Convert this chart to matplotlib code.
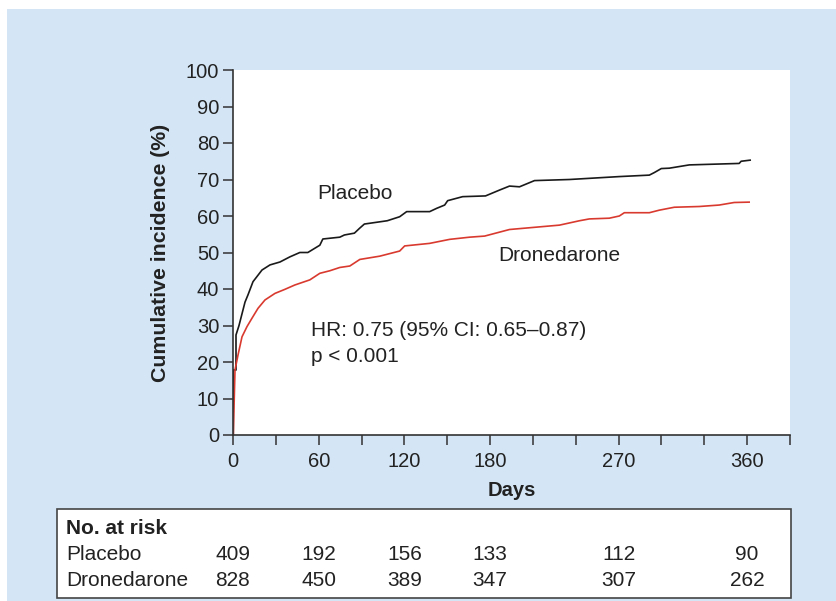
import matplotlib
matplotlib.use("Agg")
import matplotlib.pyplot as plt
from matplotlib.patches import Rectangle

# Kaplan-Meier style cumulative incidence
placebo_days = [0, 0.2, 0.2, 2.1, 2.1, 4.2, 8.4, 10.5, 14, 20.3, 25.9, 32.9, 39.8,
                46.8, 52.4, 60.8, 62.9, 74.8, 78, 85, 88.8, 92, 108, 116.7, 121.6,
                137.7, 142.6, 148.2, 150.3, 160.8, 176.8, 186.6, 193.6, 200.6,
                211.1, 235.6, 270.5, 291.5, 295, 299.9, 305.5, 319.5, 354.4,
                355.8, 362.1]
placebo_pct = [0, 0, 17.8, 17.8, 27.4, 30, 36.4, 38.4, 42, 45.2, 46.6, 47.4, 48.8,
               50, 50, 52, 53.7, 54.2, 54.8, 55.3, 56.7, 57.8, 58.7, 59.8, 61.2,
               61.2, 62.1, 63, 64.2, 65.3, 65.5, 67.1, 68.2, 68, 69.7, 70, 70.8,
               71.2, 71.9, 73, 73.1, 74, 74.4, 75, 75.3]

drone_days = [0, 0.2, 1.4, 3.5, 6.3, 9.8, 13.3, 17.5, 22.4, 29.4, 36.3, 43.3,
              53.8, 60.8, 67.8, 74.8, 81.8, 88.8, 102.8, 116.7, 120.2, 137.7,
              151.7, 165.7, 176.2, 193.6, 211.1, 228.6, 242.6, 249.5, 263.5,
              270.5, 274, 291.5, 298.5, 309, 326.4, 340.4, 350.9, 361.4]
drone_pct = [0, 0, 17.8, 21.9, 26.9, 29.7, 32, 34.7, 37, 38.8, 39.9, 41.1, 42.5,
             44.3, 45, 45.9, 46.3, 48.1, 49, 50.4, 51.8, 52.5, 53.6, 54.2, 54.5,
             56.3, 56.9, 57.5, 58.7, 59.2, 59.4, 60, 60.9, 60.9, 61.6, 62.4,
             62.6, 63, 63.7, 63.8]

x_ticks = list(range(0, 391, 30))
x_labels = ["0", "", "60", "", "120", "", "180", "", "", "270", "", "", "360", ""]
y_ticks = list(range(0, 101, 10))

risk_days = [0, 60, 120, 180, 270, 360]
risk_placebo = [409, 192, 156, 133, 112, 90]
risk_drone = [828, 450, 389, 347, 307, 262]

W, H = 836, 601
BG = "#d4e6f5"
FONT = "Liberation Sans"
plt.rcParams["font.family"] = [FONT, "DejaVu Sans"]

fig = plt.figure(figsize=(W / 100, H / 100), dpi=100, facecolor="white")

# light blue panel behind everything
fig.patches.append(Rectangle((7 / W, 0), 1 - 7 / W, (H - 9) / H,
                             transform=fig.transFigure, facecolor=BG,
                             edgecolor="none", zorder=-10))
# "No. at risk" box
fig.patches.append(Rectangle((57 / W, (H - 598) / H), (791 - 57) / W, (598 - 509) / H,
                             transform=fig.transFigure, facecolor="white",
                             edgecolor="#444444", linewidth=1.2, zorder=-5))

ax = fig.add_axes([233 / W, (H - 435) / H, (790 - 233) / W, (435 - 70) / H])
ax.set_facecolor("white")

ax.plot(placebo_days, placebo_pct, color="#1a1a1a", lw=1.2)
ax.plot(drone_days, drone_pct, color="#d93a2f", lw=1.2)

ax.set_xlim(0, 390)
ax.set_ylim(0, 100)
ax.set_xticks(x_ticks)
ax.set_xticklabels(x_labels)
ax.set_yticks(y_ticks)
for s in ("top", "right"):
    ax.spines[s].set_visible(False)
for s in ("left", "bottom"):
    ax.spines[s].set_color("#333333")
    ax.spines[s].set_linewidth(1.2)
ax.tick_params(direction="out", length=7, width=1.1, color="#333333",
               labelsize=14.5, labelcolor="#222222", pad=3)
ax.tick_params(axis="x", pad=5)
ax.spines["left"].set_zorder(5)

ax.set_ylabel("Cumulative incidence (%)", fontsize=15.3, fontweight="bold", color="#222222")
ax.yaxis.set_label_coords(-0.113, 0.5)
ax.set_xlabel("Days", fontsize=14.5, fontweight="bold", color="#222222")
ax.xaxis.set_label_coords(0.5, -0.127)

ax.text(58.7, 66.3, "Placebo", fontsize=15, va="center", color="#222222")
ax.text(186, 49.3, "Dronedarone", fontsize=15, va="center", color="#222222")
ax.text(54.5, 28.5, "HR: 0.75 (95% CI: 0.65\u20130.87)", fontsize=15, va="center", color="#222222")
ax.text(54.5, 21.4, "p < 0.001", fontsize=15, va="center", color="#222222")

# number at risk table, aligned with the x axis
ty = lambda py: (H - py) / H
fig.text(66 / W, ty(528), "No. at risk", fontsize=15, fontweight="bold",
         va="center", color="#222222")
fig.text(66 / W, ty(555), "Placebo", fontsize=15, va="center", color="#222222")
fig.text(66 / W, ty(580), "Dronedarone", fontsize=15, va="center", color="#222222")
for d, p, r in zip(risk_days, risk_placebo, risk_drone):
    xf = ax.transData.transform((d, 0))[0] / W
    fig.text(xf, ty(555), str(p), fontsize=15, ha="center", va="center", color="#222222")
    fig.text(xf, ty(580), str(r), fontsize=15, ha="center", va="center", color="#222222")

fig.savefig("out.png", dpi=100, facecolor="white")
